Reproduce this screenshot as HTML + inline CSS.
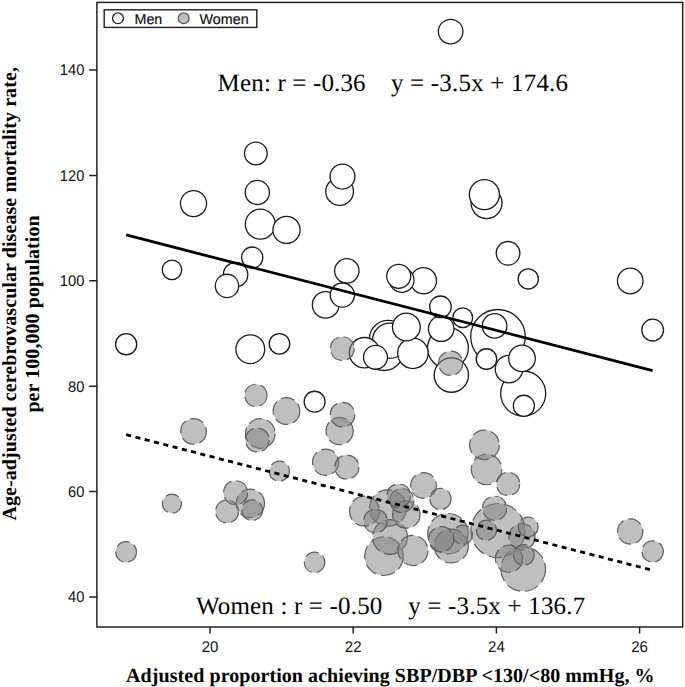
<!DOCTYPE html>
<html><head><meta charset="utf-8"><style>
html,body{margin:0;padding:0;background:#fff;}
body{width:685px;height:687px;overflow:hidden;}
svg{display:block;}
text{text-rendering:geometricPrecision;}
</style></head><body>
<svg width="685" height="687" viewBox="0 0 685 687">
<rect x="0" y="0" width="685" height="687" fill="#fff"/>
<g fill="#fff" stroke="#1c1c1c" stroke-width="1.3">
<circle cx="498" cy="336.8" r="27.3"/>
<circle cx="523.2" cy="393.5" r="22.5"/>
<circle cx="447.95" cy="348" r="20.4"/>
<circle cx="384" cy="351" r="19.5"/>
<circle cx="388" cy="338.9" r="18.6"/>
<circle cx="390" cy="340.7" r="17.6"/>
<circle cx="451.35" cy="375.1" r="17.15"/>
<circle cx="486.55" cy="203.1" r="15.45"/>
<circle cx="412.9" cy="353.3" r="15.25"/>
<circle cx="364.5" cy="352.7" r="15.2"/>
<circle cx="484.4" cy="194.6" r="15.05"/>
<circle cx="260.3" cy="224.2" r="15"/>
<circle cx="250.3" cy="349.2" r="14.4"/>
<circle cx="406.35" cy="327" r="13.9"/>
<circle cx="339.6" cy="191.5" r="13.85"/>
<circle cx="509" cy="369.1" r="13.75"/>
<circle cx="286.5" cy="229.9" r="13.55"/>
<circle cx="325.65" cy="304.9" r="13.3"/>
<circle cx="522" cy="358.4" r="13.3"/>
<circle cx="193.5" cy="203.6" r="13.05"/>
<circle cx="423.5" cy="280.7" r="13.05"/>
<circle cx="630.25" cy="281" r="12.8"/>
<circle cx="441.2" cy="328.7" r="12.75"/>
<circle cx="342.5" cy="176.6" r="12.45"/>
<circle cx="450.65" cy="31.6" r="12.3"/>
<circle cx="494.6" cy="325.9" r="12.25"/>
<circle cx="235.6" cy="274.7" r="12.2"/>
<circle cx="346.85" cy="270.8" r="12.2"/>
<circle cx="401.8" cy="280.2" r="12.2"/>
<circle cx="257.3" cy="192.4" r="12.1"/>
<circle cx="342.35" cy="295.1" r="12.1"/>
<circle cx="398.7" cy="276.3" r="12"/>
<circle cx="375.5" cy="357.3" r="11.95"/>
<circle cx="508.05" cy="253.3" r="11.8"/>
<circle cx="227" cy="285.9" r="11.65"/>
<circle cx="255.85" cy="153.4" r="11.35"/>
<circle cx="652.65" cy="330.1" r="10.9"/>
<circle cx="440.45" cy="306.8" r="10.8"/>
<circle cx="126.15" cy="344.3" r="10.6"/>
<circle cx="252.2" cy="257.6" r="10.6"/>
<circle cx="523.85" cy="405.8" r="10.55"/>
<circle cx="314.6" cy="401.7" r="10.45"/>
<circle cx="279.45" cy="343.8" r="10.25"/>
<circle cx="486.45" cy="359" r="10.25"/>
<circle cx="528.25" cy="278.9" r="10.1"/>
<circle cx="462.7" cy="317.8" r="9.9"/>
<circle cx="171.95" cy="269.8" r="9.75"/>
</g>
<g fill="rgba(128,128,128,0.5)" stroke="#5e5e5e" stroke-width="1.2" stroke-dasharray="14 5">
<circle cx="498" cy="530.6" r="27.1"/>
<circle cx="523.2" cy="569" r="22.3"/>
<circle cx="447.95" cy="533.7" r="20.2"/>
<circle cx="384" cy="556.2" r="19.3"/>
<circle cx="388" cy="508" r="18.4"/>
<circle cx="390" cy="537" r="17.4"/>
<circle cx="451.35" cy="546" r="16.95"/>
<circle cx="486.55" cy="469.5" r="15.25"/>
<circle cx="412.9" cy="550.5" r="15.05"/>
<circle cx="364.5" cy="511.2" r="15"/>
<circle cx="484.4" cy="444.9" r="14.85"/>
<circle cx="260.3" cy="433.5" r="14.8"/>
<circle cx="250.3" cy="503.4" r="14.2"/>
<circle cx="406.35" cy="514.5" r="13.7"/>
<circle cx="339.6" cy="431" r="13.65"/>
<circle cx="509" cy="558.7" r="13.55"/>
<circle cx="286.5" cy="411" r="13.35"/>
<circle cx="325.65" cy="462.3" r="13.1"/>
<circle cx="522" cy="536.8" r="13.1"/>
<circle cx="193.5" cy="431.4" r="12.85"/>
<circle cx="423.5" cy="485.5" r="12.85"/>
<circle cx="630.25" cy="531.5" r="12.6"/>
<circle cx="441.2" cy="539.2" r="12.55"/>
<circle cx="342.5" cy="414.7" r="12.25"/>
<circle cx="450.65" cy="363.3" r="12.1"/>
<circle cx="494.6" cy="508.3" r="12.05"/>
<circle cx="235.6" cy="492.7" r="12"/>
<circle cx="346.85" cy="467.1" r="12"/>
<circle cx="401.8" cy="500.5" r="12"/>
<circle cx="257.3" cy="440" r="11.9"/>
<circle cx="342.35" cy="348.6" r="11.9"/>
<circle cx="398.7" cy="495.7" r="11.8"/>
<circle cx="375.5" cy="521" r="11.75"/>
<circle cx="508.05" cy="483.9" r="11.6"/>
<circle cx="227" cy="511.5" r="11.45"/>
<circle cx="255.85" cy="395.4" r="11.15"/>
<circle cx="652.65" cy="551.5" r="10.7"/>
<circle cx="440.45" cy="499" r="10.6"/>
<circle cx="126.15" cy="552" r="10.4"/>
<circle cx="252.2" cy="510.2" r="10.4"/>
<circle cx="523.85" cy="555" r="10.35"/>
<circle cx="314.6" cy="562.4" r="10.25"/>
<circle cx="279.45" cy="471.2" r="10.05"/>
<circle cx="486.45" cy="530.2" r="10.05"/>
<circle cx="528.25" cy="527" r="9.9"/>
<circle cx="462.7" cy="534.8" r="9.7"/>
<circle cx="171.95" cy="503.6" r="9.55"/>
</g>
<path d="M126.2 234.97L652.6 370.58" stroke="#000" stroke-width="2.8" fill="none"/>
<path d="M126.2 434.7L650.3 569.72" stroke="#000" stroke-width="2.8" fill="none" stroke-dasharray="5.1 4.467"/>
<rect x="96.9" y="2.4" width="585.8" height="624.6" fill="none" stroke="#222" stroke-width="1.5"/>
<path d="M89.2 597H96.9M89.2 491.6H96.9M89.2 386.2H96.9M89.2 280.8H96.9M89.2 175.4H96.9M89.2 70H96.9M210 627V633.6M353.2 627V633.6M496.4 627V633.6M639.6 627V633.6" stroke="#222" stroke-width="1.5" fill="none"/>
<g font-family="'Liberation Sans', sans-serif" font-size="15.5" fill="#111">
<text transform="translate(84.4 602.3) scale(0.95 1)" text-anchor="end">40</text>
<text transform="translate(84.4 496.9) scale(0.95 1)" text-anchor="end">60</text>
<text transform="translate(84.4 391.5) scale(0.95 1)" text-anchor="end">80</text>
<text transform="translate(84.4 286.1) scale(0.95 1)" text-anchor="end">100</text>
<text transform="translate(84.4 180.7) scale(0.95 1)" text-anchor="end">120</text>
<text transform="translate(84.4 75.3) scale(0.95 1)" text-anchor="end">140</text>
<text transform="translate(210 652) scale(0.97 1)" text-anchor="middle">20</text>
<text transform="translate(353.2 652) scale(0.97 1)" text-anchor="middle">22</text>
<text transform="translate(496.4 652) scale(0.97 1)" text-anchor="middle">24</text>
<text transform="translate(639.6 652) scale(0.97 1)" text-anchor="middle">26</text>
</g>
<rect x="104.2" y="9.8" width="152.6" height="17.6" fill="#fff" stroke="#1e1e1e" stroke-width="1.4"/>
<circle cx="118" cy="18.3" r="5.4" fill="#fff" stroke="#1c1c1c" stroke-width="1.3"/>
<circle cx="183.7" cy="18.3" r="5.4" fill="#c0c0c0" stroke="#555" stroke-width="1.3"/>
<g font-family="'Liberation Sans', sans-serif" font-size="14.3" fill="#111" stroke="#111" stroke-width="0.2">
<text x="134.5" y="24.3">Men</text>
<text x="199.6" y="24.3">Women</text>
</g>
<g font-family="'Liberation Serif', serif" font-size="25" fill="#000">
<text x="217.6" y="91.2" textLength="148" lengthAdjust="spacing">Men: r = -0.36</text>
<text x="391" y="91.2" textLength="177" lengthAdjust="spacing">y = -3.5x + 174.6</text>
<text x="196" y="614.2" textLength="186.3" lengthAdjust="spacing">Women : r = -0.50</text>
<text x="408.2" y="614.2" textLength="177" lengthAdjust="spacing">y = -3.5x + 136.7</text>
</g>
<g font-family="'Liberation Serif', serif" font-size="20" font-weight="bold" fill="#000">
<text x="126.1" y="681.8" textLength="528.5" lengthAdjust="spacing">Adjusted proportion achieving SBP/DBP &lt;130/&lt;80 mmHg, %</text>
<text transform="translate(16.3 520.5) rotate(-90)" textLength="453.4" lengthAdjust="spacing">Age-adjusted cerebrovascular disease mortality rate,</text>
<text transform="translate(39 412.6) rotate(-90)" textLength="197.3" lengthAdjust="spacing">per 100,000 population</text>
</g>
</svg>
</body></html>
